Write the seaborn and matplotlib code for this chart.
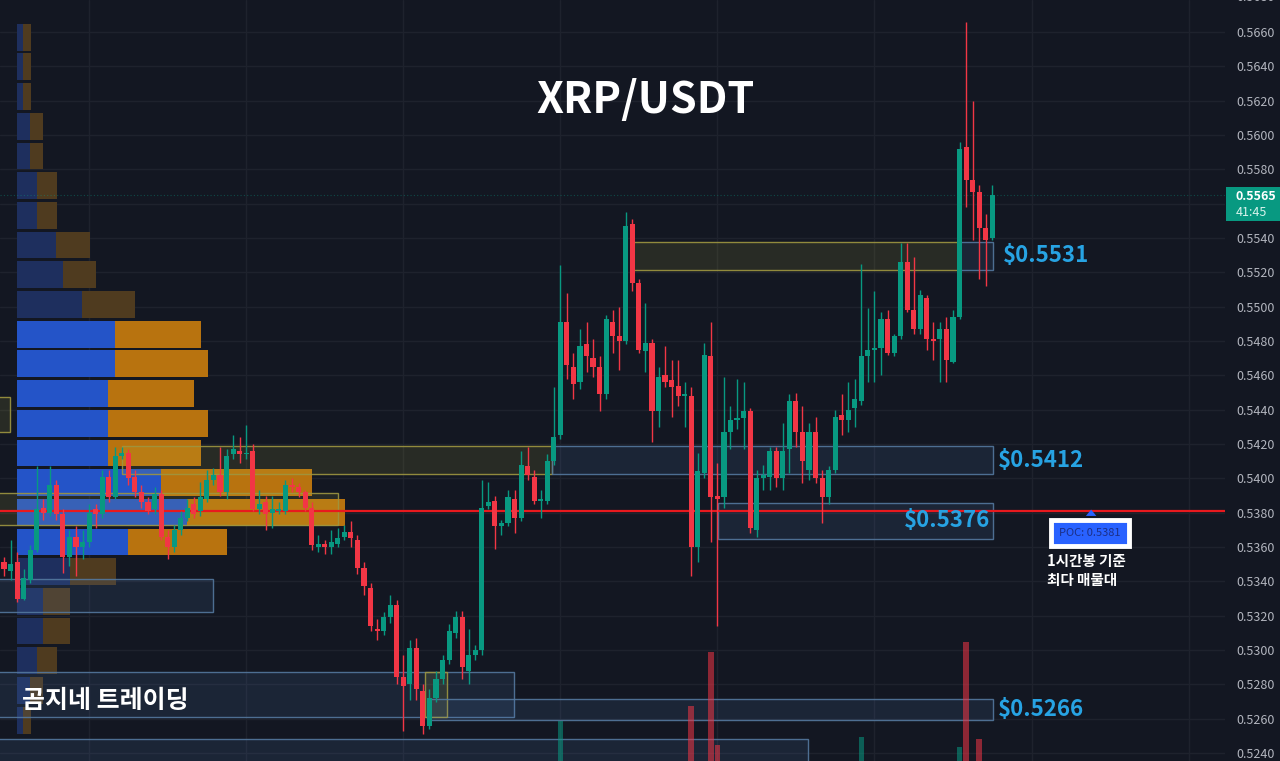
"""
XRP/USDT 1h chart with volume profile, POC line and support/resistance zones.
Writes out.png (1280x761).
"""

import numpy as np
import pandas as pd
import matplotlib
matplotlib.use('Agg')
import matplotlib.pyplot as plt
from matplotlib.patches import Rectangle, Polygon
from matplotlib.transforms import blended_transform_factory
import seaborn as sns


# ── Data ──────────────────────────────────────────────────────────────────────

opens = [
    0.5351, 0.5346, 0.5351, 0.5330, 0.5341, 0.5358, 0.5383, 0.5380, 0.5396, 0.5379,
    0.5354, 0.5366, 0.5360, 0.5363, 0.5382, 0.5379, 0.5401, 0.5389, 0.5413, 0.5415,
    0.5401, 0.5392, 0.5386, 0.5382, 0.5391, 0.5366, 0.5360, 0.5370, 0.5377, 0.5385,
    0.5381, 0.5388, 0.5399, 0.5402, 0.5392, 0.5414, 0.5416, 0.5414, 0.5416, 0.5382,
    0.5386, 0.5380, 0.5381, 0.5381, 0.5396, 0.5395, 0.5392, 0.5383, 0.5360, 0.5362,
    0.5360, 0.5362, 0.5366, 0.5369, 0.5364, 0.5348, 0.5336, 0.5312, 0.5311, 0.5319,
    0.5326, 0.5284, 0.5280, 0.5301, 0.5276, 0.5256, 0.5272, 0.5283, 0.5294, 0.5310,
    0.5319, 0.5288, 0.5297, 0.5300, 0.5384, 0.5387, 0.5372, 0.5374, 0.5388, 0.5377,
    0.5407, 0.5401, 0.5387, 0.5387, 0.5410, 0.5425, 0.5491, 0.5465, 0.5456, 0.5478,
    0.5470, 0.5465, 0.5449, 0.5491, 0.5483, 0.5480, 0.5548, 0.5514, 0.5474, 0.5479,
    0.5439, 0.5460, 0.5457, 0.5454, 0.5448, 0.5448, 0.5360, 0.5403, 0.5471, 0.5390,
    0.5389, 0.5427, 0.5434, 0.5435, 0.5439, 0.5370, 0.5400, 0.5401, 0.5416, 0.5400,
    0.5417, 0.5445, 0.5427, 0.5405, 0.5427, 0.5400, 0.5389, 0.5405, 0.5437, 0.5434,
    0.5441, 0.5445, 0.5471, 0.5475, 0.5476, 0.5493, 0.5473, 0.5483, 0.5526, 0.5498,
    0.5487, 0.5505, 0.5481, 0.5481, 0.5487, 0.5468, 0.5494, 0.5593, 0.5574, 0.5567,
    0.5546, 0.5540,
]
highs = [
    0.5354, 0.5364, 0.5357, 0.5347, 0.5361, 0.5407, 0.5388, 0.5407, 0.5399, 0.5382,
    0.5370, 0.5372, 0.5370, 0.5385, 0.5385, 0.5405, 0.5405, 0.5418, 0.5418, 0.5417,
    0.5405, 0.5396, 0.5389, 0.5395, 0.5393, 0.5370, 0.5373, 0.5381, 0.5388, 0.5389,
    0.5398, 0.5405, 0.5406, 0.5418, 0.5417, 0.5425, 0.5424, 0.5431, 0.5420, 0.5393,
    0.5390, 0.5390, 0.5386, 0.5399, 0.5400, 0.5397, 0.5393, 0.5386, 0.5367, 0.5364,
    0.5370, 0.5371, 0.5373, 0.5375, 0.5367, 0.5351, 0.5339, 0.5318, 0.5322, 0.5332,
    0.5329, 0.5297, 0.5306, 0.5307, 0.5280, 0.5277, 0.5288, 0.5297, 0.5315, 0.5323,
    0.5323, 0.5312, 0.5303, 0.5399, 0.5398, 0.5390, 0.5376, 0.5393, 0.5393, 0.5416,
    0.5418, 0.5405, 0.5393, 0.5414, 0.5453, 0.5524, 0.5508, 0.5473, 0.5487, 0.5491,
    0.5481, 0.5471, 0.5495, 0.5498, 0.5500, 0.5555, 0.5551, 0.5516, 0.5502, 0.5481,
    0.5465, 0.5477, 0.5469, 0.5469, 0.5456, 0.5453, 0.5415, 0.5479, 0.5491, 0.5409,
    0.5459, 0.5442, 0.5458, 0.5456, 0.5441, 0.5405, 0.5408, 0.5418, 0.5418, 0.5432,
    0.5449, 0.5450, 0.5442, 0.5432, 0.5436, 0.5405, 0.5407, 0.5440, 0.5449, 0.5456,
    0.5458, 0.5525, 0.5499, 0.5509, 0.5497, 0.5498, 0.5484, 0.5537, 0.5537, 0.5529,
    0.5510, 0.5507, 0.5491, 0.5491, 0.5494, 0.5498, 0.5596, 0.5666, 0.5620, 0.5571,
    0.5554, 0.5571,
]
lows = [
    0.5343, 0.5341, 0.5328, 0.5329, 0.5339, 0.5357, 0.5376, 0.5378, 0.5376, 0.5345,
    0.5349, 0.5343, 0.5353, 0.5360, 0.5371, 0.5377, 0.5386, 0.5388, 0.5411, 0.5396,
    0.5389, 0.5383, 0.5379, 0.5379, 0.5364, 0.5353, 0.5357, 0.5367, 0.5375, 0.5377,
    0.5378, 0.5386, 0.5396, 0.5390, 0.5388, 0.5411, 0.5409, 0.5411, 0.5381, 0.5379,
    0.5370, 0.5371, 0.5379, 0.5379, 0.5392, 0.5389, 0.5381, 0.5358, 0.5357, 0.5356,
    0.5356, 0.5360, 0.5364, 0.5360, 0.5344, 0.5332, 0.5311, 0.5306, 0.5309, 0.5316,
    0.5280, 0.5253, 0.5271, 0.5271, 0.5251, 0.5254, 0.5270, 0.5280, 0.5292, 0.5307,
    0.5283, 0.5280, 0.5294, 0.5297, 0.5382, 0.5359, 0.5367, 0.5372, 0.5368, 0.5375,
    0.5399, 0.5385, 0.5377, 0.5385, 0.5408, 0.5423, 0.5458, 0.5446, 0.5452, 0.5462,
    0.5459, 0.5439, 0.5446, 0.5473, 0.5463, 0.5478, 0.5509, 0.5473, 0.5462, 0.5421,
    0.5430, 0.5453, 0.5436, 0.5442, 0.5430, 0.5343, 0.5351, 0.5400, 0.5363, 0.5314,
    0.5383, 0.5417, 0.5429, 0.5417, 0.5368, 0.5366, 0.5393, 0.5393, 0.5395, 0.5393,
    0.5403, 0.5418, 0.5397, 0.5399, 0.5397, 0.5374, 0.5385, 0.5403, 0.5425, 0.5427,
    0.5430, 0.5443, 0.5456, 0.5456, 0.5460, 0.5472, 0.5471, 0.5481, 0.5497, 0.5484,
    0.5484, 0.5475, 0.5469, 0.5456, 0.5456, 0.5467, 0.5493, 0.5558, 0.5539, 0.5516,
    0.5512, 0.5539,
]
closes = [
    0.5347, 0.5350, 0.5330, 0.5342, 0.5358, 0.5382, 0.5380, 0.5396, 0.5379, 0.5354,
    0.5366, 0.5360, 0.5363, 0.5380, 0.5379, 0.5401, 0.5389, 0.5413, 0.5415, 0.5400,
    0.5392, 0.5386, 0.5381, 0.5391, 0.5366, 0.5360, 0.5370, 0.5377, 0.5383, 0.5379,
    0.5389, 0.5399, 0.5402, 0.5392, 0.5413, 0.5417, 0.5414, 0.5415, 0.5382, 0.5385,
    0.5379, 0.5382, 0.5382, 0.5396, 0.5395, 0.5392, 0.5383, 0.5361, 0.5362, 0.5360,
    0.5363, 0.5365, 0.5369, 0.5365, 0.5348, 0.5337, 0.5314, 0.5311, 0.5319, 0.5326,
    0.5284, 0.5279, 0.5301, 0.5277, 0.5256, 0.5272, 0.5283, 0.5294, 0.5311, 0.5319,
    0.5290, 0.5297, 0.5300, 0.5383, 0.5386, 0.5372, 0.5374, 0.5389, 0.5377, 0.5408,
    0.5402, 0.5387, 0.5388, 0.5410, 0.5424, 0.5491, 0.5466, 0.5455, 0.5477, 0.5471,
    0.5465, 0.5449, 0.5493, 0.5483, 0.5480, 0.5547, 0.5514, 0.5475, 0.5479, 0.5439,
    0.5459, 0.5456, 0.5453, 0.5448, 0.5449, 0.5360, 0.5404, 0.5472, 0.5389, 0.5388,
    0.5427, 0.5434, 0.5435, 0.5439, 0.5371, 0.5400, 0.5402, 0.5416, 0.5400, 0.5416,
    0.5445, 0.5427, 0.5410, 0.5427, 0.5400, 0.5389, 0.5405, 0.5436, 0.5434, 0.5440,
    0.5446, 0.5471, 0.5475, 0.5476, 0.5493, 0.5473, 0.5483, 0.5526, 0.5498, 0.5487,
    0.5507, 0.5481, 0.5480, 0.5487, 0.5469, 0.5494, 0.5592, 0.5574, 0.5567, 0.5546,
    0.5539, 0.5565,
]

# Volume (M XRP) for the bars that reach into the visible area
vol_idx = [85, 105, 108, 109, 131, 146, 147, 149]
vol_vals = [4.1, 5.6, 11.2, 1.6, 2.5, 1.4, 12.2, 2.3]

# Visible-range volume profile: row mid-prices, buy / sell volume
vp_price = [
    0.56570, 0.56397, 0.56224, 0.56051, 0.55878, 0.55705, 0.55532, 0.55359,
    0.55186, 0.55013, 0.54840, 0.54667, 0.54494, 0.54321, 0.54148, 0.53975,
    0.53802, 0.53629, 0.53456, 0.53283, 0.53110, 0.52937, 0.52764, 0.52591,
]
vp_up = [6, 6, 6, 13, 13, 20, 20, 39, 46, 65, 98, 98,
         91, 91, 91, 144, 170, 111, 53, 26, 26, 20, 13, 6]
vp_down = [8, 8, 8, 13, 13, 20, 20, 34, 33, 53, 86, 93,
           86, 100, 93, 151, 158, 99, 46, 27, 27, 20, 13, 8]
vp_value_area = list(range(10, 18))

POC_PRICE = 0.5381
LAST_PRICE = 0.5565
LAST_COUNTDOWN = '41:45'

# Zones: kind, first bar, last bar, low, high
zone_kind = ['y', 'b', 'y', 'b', 'b', 'b', 'b', 'y', 'b', 'b', 'y', 'y']
zone_x0 = [96.1, 145.8, 18.0, 83.7, 109.1, -1.0, -1.0, 64.3, 65.1, -1.0, -1.0, -1.0]
zone_x1 = [145.8, 151.1, 83.7, 151.1, 151.1, 31.9, 77.9, 67.7, 151.1, 122.8, 51.0, 0.9]
zone_lo = [0.55214, 0.55214, 0.54025, 0.54025, 0.53647, 0.53222, 0.52610, 0.52610,
           0.52592, 0.52200, 0.53728, 0.54270]
zone_hi = [0.55377, 0.55377, 0.54188, 0.54188, 0.53857, 0.53414, 0.52872, 0.52872,
           0.52715, 0.52482, 0.53915, 0.54474]

# Level labels: text, zone it belongs to
level_text = ['$0.5531', '$0.5412', '$0.5376', '$0.5266']
level_zone = [1, 3, 4, 8]

price_ticks = np.round(np.arange(0.5240, 0.5661, 0.0020), 4)
day_bars = [13, 37, 61, 85, 109, 133, 157, 181]


# ── Style ─────────────────────────────────────────────────────────────────────

BG = '#131722'
GRID = '#1e222d'
UP = '#089981'
DOWN = '#f23645'
LEVEL_BLUE = '#27a3e3'
SCALE_TEXT = '#b2b5be'

W, H = 1280, 761
PLOT_W = 1225          # px width of the chart pane (price scale to the right)
BAR_PX = 6.545         # px per bar
X_LO = -4 / BAR_PX
X_HI = (PLOT_W - 4) / BAR_PX
Y_LO, Y_HI = 0.523535, 0.567864
VP_LEFT = 17           # px where profile rows start


def add_pane(fig: plt.Figure) -> plt.Axes:
    ax = fig.add_axes([0, 0, PLOT_W / W, 1])
    ax.set_facecolor('none')
    for s in ax.spines.values():
        s.set_visible(False)
    ax.set_ylim(Y_LO, Y_HI)
    return ax


def main() -> None:
    sns.set_theme(style='dark', rc={'figure.facecolor': BG, 'axes.facecolor': BG,
                                    'savefig.facecolor': BG})
    plt.rcParams['font.family'] = ['Noto Sans CJK KR', 'DejaVu Sans']

    fig = plt.figure(figsize=(W / 100, H / 100), dpi=100)

    # grid layer
    ax_bg = add_pane(fig)
    ax_bg.set_xlim(X_LO, X_HI)
    ax_bg.set_xticks(day_bars)
    ax_bg.set_yticks(price_ticks)
    ax_bg.tick_params(length=0, labelbottom=False, labelleft=False)
    ax_bg.grid(True, color=GRID, lw=1)

    # volume profile layer
    ax_vp = add_pane(fig)
    vp = pd.DataFrame({
        'price': vp_price,
        'up': vp_up,
        'total': np.add(vp_up, vp_down),
        'area': ['va' if i in vp_value_area else 'out' for i in range(len(vp_price))],
    })
    sns.barplot(data=vp, x='total', y='price', hue='area', orient='y', native_scale=True,
                dodge=False, width=0.9, saturation=1, errorbar=None, legend=False,
                palette={'va': '#b8730f', 'out': '#4f3b1f'}, linewidth=0, ax=ax_vp)
    sns.barplot(data=vp, x='up', y='price', hue='area', orient='y', native_scale=True,
                dodge=False, width=0.9, saturation=1, errorbar=None, legend=False,
                palette={'va': '#2454c8', 'out': '#1e2f5e'}, linewidth=0, ax=ax_vp)
    ax_vp.set_xlim(-VP_LEFT, PLOT_W - VP_LEFT)
    ax_vp.set_ylim(Y_LO, Y_HI)
    ax_vp.set_xticks([])
    ax_vp.set_yticks([])
    ax_vp.set_xlabel('')
    ax_vp.set_ylabel('')

    # price pane
    ax = add_pane(fig)
    ax.set_xlim(X_LO, X_HI)

    for k, x0, x1, lo, hi in zip(zone_kind, zone_x0, zone_x1, zone_lo, zone_hi):
        if k == 'y':
            fc, ec = (0.78, 0.75, 0.24, 0.12), (0.62, 0.59, 0.25, 0.9)
        else:
            fc, ec = (0.36, 0.55, 0.80, 0.12), (0.33, 0.47, 0.62, 0.9)
        ax.add_patch(Rectangle((x0, lo), x1 - x0, hi - lo, fc=fc, ec=ec, lw=1, zorder=1))

    ax.axhline(POC_PRICE, color='#e8191e', lw=1.6, zorder=2)
    ax.axhline(LAST_PRICE, color=UP, lw=0.8, ls=(0, (1, 2)), alpha=0.4, zorder=2)

    o = np.array(opens)
    c = np.array(closes)
    idx = np.arange(len(o))
    cols = np.where(c >= o, UP, DOWN)
    ax.vlines(idx, lows, highs, colors=cols, lw=1, zorder=3)
    ax.bar(idx, np.maximum(np.abs(c - o), 0.00006), bottom=np.minimum(o, c),
           width=0.78, color=cols, linewidth=0, zorder=4)

    # level labels
    for text, z in zip(level_text, level_zone):
        mid = (zone_lo[z] + zone_hi[z]) / 2
        if text == '$0.5376':
            ax.text(zone_x1[z] - 0.4, mid, text, ha='right', va='center', fontsize=16,
                    weight='bold', color=LEVEL_BLUE, zorder=6)
        else:
            off = 1.5 if z == 1 else 0.8
            ax.text(zone_x1[z] + off, mid, text, ha='left', va='center', fontsize=16,
                    weight='bold', color=LEVEL_BLUE, zorder=6)

    # POC callout
    ax.add_patch(Polygon([(165.3, 0.53781), (166.9, 0.53781), (166.1, 0.53818)],
                         closed=True, fc='#2962ff', ec='none', zorder=6))
    ax.text(165.9, POC_PRICE - 0.00128, f'POC: {POC_PRICE:.4f}', ha='center', va='center',
            fontsize=8, color='#1c2f86', zorder=7,
            bbox=dict(boxstyle='square,pad=0.75', fc='#2962ff', ec='white', lw=3.5))
    ax.text(159.4, 0.53565, '1시간봉 기준\n최다 매물대', ha='left', va='top', fontsize=10.5,
            weight='bold', color='white', linespacing=1.2, zorder=7)

    # volume
    ax_v = ax.twinx()
    vol = pd.DataFrame({'bar': vol_idx, 'vol': vol_vals,
                        'dir': ['up' if closes[i] >= opens[i] else 'down' for i in vol_idx]})
    sns.barplot(data=vol, x='bar', y='vol', hue='dir', native_scale=True, dodge=False,
                width=0.85, saturation=1, errorbar=None, legend=False, alpha=0.55,
                palette={'up': UP, 'down': DOWN}, linewidth=0, ax=ax_v)
    ax_v.set_ylim(0, 78)
    ax_v.set_yticks([])
    ax_v.set_xlabel('')
    ax_v.set_ylabel('')
    for s in ax_v.spines.values():
        s.set_visible(False)

    # price scale (twinx moves the host ticks to the left, so set them afterwards);
    # the level under the last-price tag is hidden by the tag
    ax.set_xlim(X_LO, X_HI)
    ax.set_ylim(Y_LO, Y_HI)
    ax.yaxis.tick_right()
    ax.set_yticks(price_ticks)
    ax.set_yticklabels(['' if abs(p - LAST_PRICE) < 0.0010 else f'{p:.4f}'
                        for p in price_ticks])
    ax.tick_params(axis='y', which='both', left=False, labelleft=False, right=False,
                   labelright=True, length=0, pad=8, labelsize=9, labelcolor=SCALE_TEXT)
    ax.tick_params(axis='x', length=0, labelbottom=False)
    ax.grid(False)
    right = blended_transform_factory(fig.transFigure, ax.transData)
    ax.text(1236 / W, 0.5680, '0.5680', transform=right, fontsize=9, color=SCALE_TEXT,
            va='center', ha='left', clip_on=False)

    # last price tag
    fig.add_artist(Rectangle((1226 / W, 1 - 221 / H), 54 / W, 34 / H,
                             transform=fig.transFigure, fc=UP, ec='none'))
    fig.text(1236 / W, 1 - 197 / H, f'{LAST_PRICE:.4f}', fontsize=9, weight='bold',
             color='white', ha='left', va='center')
    fig.text(1236 / W, 1 - 212 / H, LAST_COUNTDOWN, fontsize=9, color='#d8f3ec',
             ha='left', va='center')

    fig.text(645 / W, 1 - 100 / H, 'XRP/USDT', ha='center', va='center', fontsize=31,
             weight='bold', color='white')
    fig.text(22 / W, 1 - 701 / H, '곰지네 트레이딩', ha='left', va='center', fontsize=18,
             weight='bold', color='white')

    fig.savefig('out.png', dpi=100, facecolor=BG)
    plt.close(fig)


if __name__ == '__main__':
    main()
